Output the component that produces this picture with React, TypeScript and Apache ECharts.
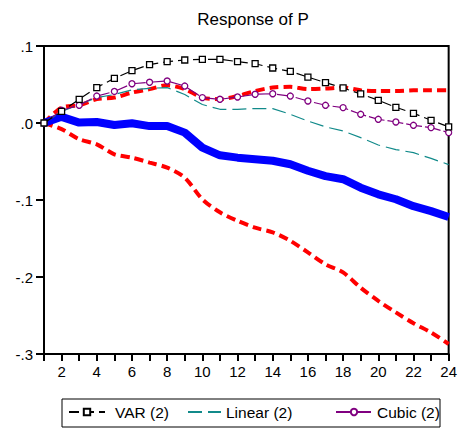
import React, { useEffect, useRef } from "react";
import * as echarts from "echarts";

const periods = [1, 2, 3, 4, 5, 6, 7, 8, 9, 10, 11, 12, 13, 14, 15, 16, 17, 18, 19, 20, 21, 22, 23, 24];

const varResp = [0, 0.015, 0.0308, 0.046, 0.058, 0.068, 0.0758, 0.0797, 0.0818, 0.0827, 0.0827, 0.0797, 0.077, 0.0714, 0.067, 0.0597, 0.0524, 0.0455, 0.0377, 0.0295, 0.0204, 0.0126, 0.0035, -0.005];
const linearResp = [0, 0.015, 0.024, 0.033, 0.037, 0.043, 0.045, 0.046, 0.037, 0.024, 0.0178, 0.0178, 0.0187, 0.0187, 0.0113, 0.0026, -0.005, -0.0104, -0.019, -0.0286, -0.0345, -0.0385, -0.046, -0.054];
const cubicResp = [0, 0.0165, 0.023, 0.035, 0.041, 0.051, 0.0529, 0.0545, 0.048, 0.033, 0.0308, 0.0338, 0.0373, 0.038, 0.035, 0.0286, 0.023, 0.02, 0.0113, 0.0048, 0.0013, -0.003, -0.006, -0.0125];
const pointResp = [0, 0.008, 0.0005, 0.0013, -0.0026, -0.0004, -0.004, -0.004, -0.0125, -0.032, -0.042, -0.045, -0.047, -0.049, -0.0536, -0.062, -0.069, -0.073, -0.084, -0.0926, -0.099, -0.108, -0.1145, -0.122];
const upperBand = [0, 0.02, 0.023, 0.031, 0.033, 0.0395, 0.044, 0.049, 0.044, 0.033, 0.031, 0.035, 0.0416, 0.046, 0.047, 0.044, 0.0447, 0.046, 0.0425, 0.0416, 0.0416, 0.0425, 0.0425, 0.0425];
const lowerBand = [0, -0.008, -0.021, -0.0277, -0.0406, -0.045, -0.0514, -0.058, -0.071, -0.099, -0.116, -0.127, -0.136, -0.142, -0.153, -0.168, -0.1835, -0.194, -0.214, -0.231, -0.246, -0.26, -0.272, -0.287];

const legendNames = ["VAR (2)", "Linear (2)", "Cubic (2)"];
const title = "Response of P";

const FONT = "'Liberation Sans', Arial, sans-serif";

const pairs = (vals: number[]) => periods.map((p, i) => [p, vals[i]]);

const fmtY = (v: number) => {
  const r = Math.round(v * 10);
  if (r === 0) return ".0";
  return (r < 0 ? "-" : "") + "." + Math.abs(r);
};

const legendItem = (name: string, left: number, width: number, padLeft: number, hideSymbol = false) => ({
  data: [name],
  left,
  top: 404,
  itemWidth: width,
  itemHeight: 8,
  itemGap: 0,
  padding: 0,
  ...(hideSymbol ? { itemStyle: { opacity: 0 }, lineStyle: { opacity: 1 } } : {}),
  textStyle: { fontFamily: FONT, fontSize: 15.5, color: "#000", padding: [0, 0, 0, padLeft] },
});

export default function App() {
  const ref = useRef<HTMLDivElement>(null);
  useEffect(() => {
    if (!ref.current) return;
    const chart = echarts.init(ref.current, null, { renderer: "svg" });
    chart.setOption({
      animation: false,
      backgroundColor: "#fff",
      title: {
        text: title,
        left: 248,
        textAlign: "center",
        top: 6,
        textStyle: { fontFamily: FONT, fontSize: 17, fontWeight: "normal", color: "#000" },
      },
      grid: {
        left: 44,
        right: 5,
        top: 46,
        bottom: 75,
        show: true,
        borderColor: "#000",
        borderWidth: 2,
        backgroundColor: "transparent",
      },
      xAxis: {
        type: "value",
        min: 1,
        max: 24,
        interval: 1,
        axisLine: { onZero: false, lineStyle: { color: "#000", width: 2 } },
        axisTick: { show: true, inside: false, length: 7, lineStyle: { color: "#000", width: 2 } },
        axisLabel: {
          color: "#000",
          fontFamily: FONT,
          fontSize: 15,
          margin: 10,
          formatter: (v: number) => (Math.round(v) % 2 === 0 ? String(Math.round(v)) : ""),
        },
        splitLine: { show: false },
      },
      yAxis: {
        type: "value",
        min: -0.3,
        max: 0.1,
        interval: 0.1,
        axisLine: { show: true, onZero: false, lineStyle: { color: "#000", width: 2 } },
        axisTick: { show: true, inside: false, length: 8, lineStyle: { color: "#000", width: 2 } },
        axisLabel: { color: "#000", fontFamily: FONT, fontSize: 15, margin: 11, formatter: fmtY },
        splitLine: { show: false },
      },
      legend: [
        legendItem(legendNames[0], 68, 36, 5),
        legendItem(legendNames[1], 187, 33, 0, true),
        legendItem(legendNames[2], 335, 36, 0),
      ],
      graphic: [
        {
          type: "rect",
          shape: { x: 62, y: 399, width: 378, height: 28 },
          style: { fill: "none", stroke: "#000", lineWidth: 1 },
          silent: true,
        },
      ],
      series: [
        {
          name: "Upper",
          type: "line",
          data: pairs(upperBand),
          showSymbol: false,
          symbol: "none",
          smooth: 0.3,
          lineStyle: { color: "#ff0000", width: 4, type: [9, 5] },
          z: 2,
        },
        {
          name: "Lower",
          type: "line",
          data: pairs(lowerBand),
          showSymbol: false,
          symbol: "none",
          smooth: 0.3,
          lineStyle: { color: "#ff0000", width: 4, type: [9, 5] },
          z: 2,
        },
        {
          name: "Point",
          type: "line",
          data: pairs(pointResp),
          showSymbol: false,
          symbol: "none",
          lineStyle: { color: "#0000ff", width: 8 },
          z: 2,
        },
        {
          name: "Linear (2)",
          type: "line",
          data: pairs(linearResp),
          symbol: "none",
          color: "#118a8a",
          lineStyle: { color: "#118a8a", width: 1.2, type: [14, 6] },
          z: 3,
        },
        {
          name: "Cubic (2)",
          type: "line",
          data: pairs(cubicResp),
          symbol: "circle",
          symbolSize: 6,
          color: "#800080",
          lineStyle: { color: "#800080", width: 1.2, type: [16, 3] },
          itemStyle: { color: "#fff", borderColor: "#800080", borderWidth: 1.3 },
          z: 4,
        },
        {
          name: "VAR (2)",
          type: "line",
          data: pairs(varResp),
          symbol: "rect",
          symbolSize: 6,
          color: "#000",
          lineStyle: { color: "#000", width: 1.2, type: [10, 5] },
          itemStyle: { color: "#fff", borderColor: "#000", borderWidth: 1.3 },
          z: 5,
        },
      ],
    });
    return () => chart.dispose();
  }, []);
  return (
    <div
      ref={ref}
      style={{ position: "absolute", left: 0, top: 0, width: 460, height: 429 }}
    />
  );
}
